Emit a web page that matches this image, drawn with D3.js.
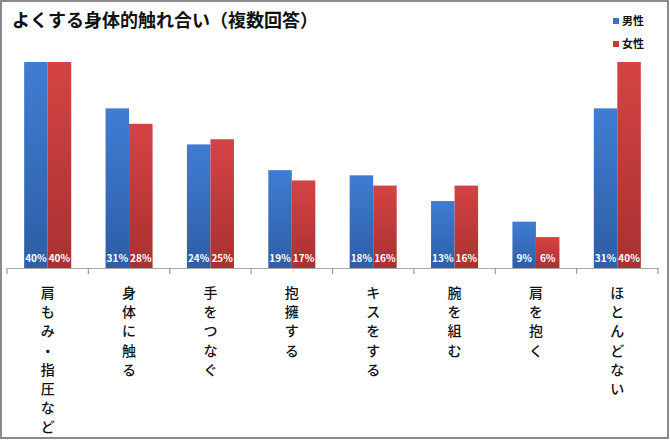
<!DOCTYPE html>
<html><head><meta charset="utf-8">
<script src="https://cdn.jsdelivr.net/npm/d3@7/dist/d3.min.js"></script>
<style>body{margin:0;background:#fff}svg{display:block}text{font-family:"Noto Sans CJK JP","Noto Sans",sans-serif}</style>
</head><body>
<script>
const categories = ["肩もみ・指圧など","身体に触る","手をつなぐ","抱擁する","キスをする","腕を組む","肩を抱く","ほとんどない"];
const seriesNames = ["男性","女性"];
const maleValues = [40,31,24,19,18,13,9,31];
const femaleValues = [40,28,25,17,16,16,6,40];
const title = "よくする身体的触れ合い（複数回答）";

const W=670,H=440;
const svg=d3.select("body").append("svg").attr("width",W).attr("height",H);
const defs=svg.append("defs");
function grad(id,top,bot){const g=defs.append("linearGradient").attr("id",id).attr("x1",0).attr("y1",0).attr("x2",0).attr("y2",1);
 g.append("stop").attr("offset","0%").attr("stop-color",top);g.append("stop").attr("offset","100%").attr("stop-color",bot);}
grad("gM","#3f7dd2","#2d5ea6");grad("gF","#d54343","#a93131");
const fills=["url(#gM)","url(#gF)"];
const legendColors=["#3a72c4","#c23a3a"];

svg.append("rect").attr("x",1).attr("y",1).attr("width",W-3).attr("height",H-3).attr("fill","#fff").attr("stroke","#8a8a8a").attr("stroke-width",2);

svg.append("text").attr("x",12).attr("y",27).attr("font-size",18).attr("font-weight",700).attr("fill","#111").text(title);

const leg=svg.append("g");
seriesNames.forEach((n,i)=>{
  const y=21+i*23;
  leg.append("rect").attr("x",613).attr("y",y-3).attr("width",6).attr("height",6).attr("fill",legendColors[i]);
  leg.append("text").attr("x",622).attr("y",y+4).attr("font-size",11).attr("font-weight",700).attr("fill","#111").text(n);
});

const x0=d3.scaleBand().domain(categories).range([7,658]).paddingInner(0).paddingOuter(0);
const x1=d3.scaleBand().domain(seriesNames).range([0,x0.bandwidth()]).paddingOuter(0.73).paddingInner(0);
const y=d3.scaleLinear().domain([0,40]).range([268,62]);

const data=categories.map((c,i)=>({c,vals:[maleValues[i],femaleValues[i]]}));
const g=svg.append("g");
const grp=g.selectAll("g.cat").data(data).join("g").attr("transform",d=>`translate(${x0(d.c)},0)`);
grp.selectAll("rect").data(d=>d.vals.map((v,j)=>({v,s:seriesNames[j],j}))).join("rect")
 .attr("x",d=>x1(d.s)).attr("width",x1.bandwidth()).attr("y",d=>y(d.v)).attr("height",d=>y(0)-y(d.v)).attr("fill",d=>fills[d.j]);
grp.selectAll("text.val").data(d=>d.vals.map((v,j)=>({v,s:seriesNames[j],j}))).join("text").attr("class","val")
 .attr("x",d=>x1(d.s)+x1.bandwidth()/2).attr("y",262).attr("text-anchor","middle").attr("font-size",10).attr("font-family","'Open Sans', 'Noto Sans', sans-serif").attr("font-weight",600).attr("fill","#fff").text(d=>d.v+"%");

const axis=d3.axisBottom(x0).tickSize(0).tickFormat("");
const ax=svg.append("g").attr("transform","translate(0,268)").call(axis);
ax.select(".domain").attr("stroke","#a8a8a8").attr("stroke-width",1.2);
const bounds=[7,...categories.map(c=>x0(c)+x0.bandwidth())];
svg.append("g").selectAll("line").data(bounds).join("line").attr("x1",d=>d).attr("x2",d=>d).attr("y1",268).attr("y2",274).attr("stroke","#999").attr("stroke-width",1.2);

const lab=svg.append("g");
categories.forEach(c=>{
  const t=lab.append("text").attr("x",x0(c)+x0.bandwidth()/2).attr("y",298).attr("text-anchor","middle").attr("font-size",14).attr("font-weight",500).attr("fill","#111");
  [...c].forEach((ch,k)=>t.append("tspan").attr("x",x0(c)+x0.bandwidth()/2).attr("y",298+k*19.2).text(ch));
});
</script>
</body></html>
